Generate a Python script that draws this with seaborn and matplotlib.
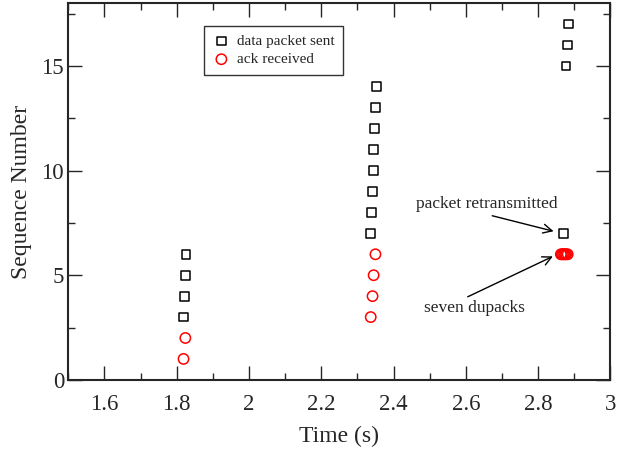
import matplotlib
matplotlib.use("Agg")
import matplotlib.pyplot as plt
import seaborn as sns
import pandas as pd
from matplotlib.ticker import MultipleLocator

# data packets sent
sent_time = [1.819, 1.821, 1.824, 1.826,
             2.337, 2.340, 2.342, 2.345, 2.345, 2.347, 2.350, 2.352,
             2.871, 2.877, 2.882, 2.885]
sent_seq = [3, 4, 5, 6,
            7, 8, 9, 10, 11, 12, 13, 14,
            7, 15, 16, 17]

# acks received
ack_time = [1.819, 1.824,
            2.337, 2.342, 2.345, 2.350,
            2.863, 2.866, 2.869, 2.872, 2.875, 2.878, 2.882]
ack_seq = [1, 2,
           3, 4, 5, 6,
           6, 6, 6, 6, 6, 6, 6]

sns.set_style("ticks")
plt.rcParams['font.family'] = ['Liberation Serif', 'DejaVu Serif']

fig = plt.figure(figsize=(6.26, 4.49), dpi=100)
ax = fig.add_axes([0.109, 0.154, 0.866, 0.839])

df_sent = pd.DataFrame({"t": sent_time, "seq": sent_seq})
df_ack = pd.DataFrame({"t": ack_time, "seq": ack_seq})

sns.scatterplot(data=df_sent, x="t", y="seq", ax=ax, marker="s", s=40,
                facecolor="none", edgecolor="black", linewidth=1.1,
                label="data packet sent", zorder=3)
sns.scatterplot(data=df_ack, x="t", y="seq", ax=ax, marker="o", s=55,
                facecolor="none", edgecolor="red", linewidth=1.1,
                label="ack received", zorder=3)

ax.set_xlim(1.5, 3.0)
ax.set_ylim(0, 18)
ax.xaxis.set_minor_locator(MultipleLocator(0.1))
ax.yaxis.set_major_locator(MultipleLocator(5))
ax.yaxis.set_minor_locator(MultipleLocator(2.5))
ax.set_xticks([1.6, 1.8, 2.0, 2.2, 2.4, 2.6, 2.8, 3.0])
ax.set_xticklabels(["1.6", "1.8", "2", "2.2", "2.4", "2.6", "2.8", "3"])
ax.tick_params(which="both", direction="in", top=True, right=True,
               labelsize=16.5, width=1)
ax.tick_params(axis="x", pad=10)
ax.tick_params(axis="y", pad=3)
ax.tick_params(which="major", length=10)
ax.tick_params(which="minor", length=5)
for sp in ax.spines.values():
    sp.set_linewidth(1.5)

ax.set_xlabel("Time (s)", fontsize=17, labelpad=8)
ax.set_ylabel("Sequence Number", fontsize=17, labelpad=7)

leg = ax.legend(loc="upper left", bbox_to_anchor=(0.236, 0.96),
                fontsize=11, frameon=True, fancybox=False, edgecolor="black",
                handletextpad=0.4, borderpad=0.55, labelspacing=0.3,
                handlelength=1.2)
leg.get_frame().set_linewidth(1.0)

ax.annotate("packet retransmitted", xy=(2.843, 7.1), xytext=(2.461, 8.38),
            fontsize=12.5, ha="left", va="center",
            arrowprops=dict(arrowstyle="->", color="black", lw=1,
                            shrinkA=0, shrinkB=0, mutation_scale=16,
                            relpos=(0.45, 0.0)))
ax.annotate("seven dupacks", xy=(2.841, 5.9), xytext=(2.483, 3.43),
            fontsize=12.5, ha="left", va="center",
            arrowprops=dict(arrowstyle="->", color="black", lw=1,
                            shrinkA=0, shrinkB=0, mutation_scale=16,
                            relpos=(0.37, 1.0)))

fig.savefig("out.png", dpi=100)
